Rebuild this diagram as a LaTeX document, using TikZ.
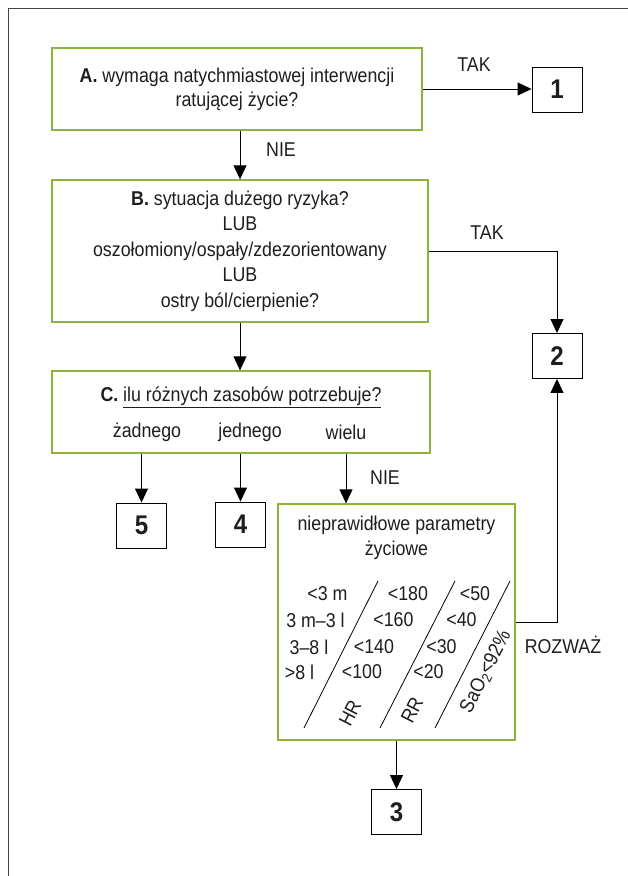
\documentclass[tikz,border=0pt]{standalone}
\usepackage{fontspec}
\setmainfont{Liberation Sans}[FakeStretch=0.89]
\usetikzlibrary{arrows.meta}
\definecolor{TriageGreen}{RGB}{141,180,56}
\definecolor{TriageText}{RGB}{30,30,30}
\definecolor{FrameGray}{RGB}{70,70,70}
\tikzset{
  questionBox/.style={draw=TriageGreen, line width=1.3pt, fill=white, align=center, inner sep=0pt},
  levelBox/.style={draw=black, line width=0.9pt, fill=white, minimum width=50pt, minimum height=45pt,
    inner sep=0pt, font=\fontsize{27}{30}\selectfont\bfseries},
  flowArrow/.style={draw=black, line width=0.9pt, -{Triangle[length=14pt,width=13pt]}},
  sideLabel/.style={inner sep=0pt},
  vitalRule/.style={draw=black, line width=0.8pt},
}

\begin{document}
\begin{tikzpicture}[x=1pt, y=-1pt, font=\fontsize{20}{24}\selectfont, text=TriageText]
\useasboundingbox (0,0) rectangle (628,876);

% frame corner
\draw[FrameGray, line width=1.5pt] (8.5,876) -- (8.5,8.5) -- (628,8.5);

% questions
\node[questionBox, minimum width=370pt, minimum height=82pt] (qa) at (237,89)
  {\textbf{A.} wymaga natychmiastowej interwencji\\ ratującej życie?};
\node[questionBox, minimum width=376pt, minimum height=142pt, font=\fontsize{20}{25.5}\selectfont] (qb) at (240,251)
  {\textbf{B.} sytuacja dużego ryzyka?\\ LUB\\ oszołomiony/ospały/zdezorientowany\\ LUB\\ ostry ból/cierpienie?};
\node[questionBox, minimum width=378pt, minimum height=82pt] (qc) at (241,412) {};
\node[sideLabel] (qctitle) at (241,397) {\textbf{C.} \underline{ilu różnych zasobów potrzebuje?}};
\node[sideLabel] (none) at (147,432) {żadnego};
\node[sideLabel] (one) at (250,432) {jednego};
\node[sideLabel] (many) at (346,432) {wielu};

\node[questionBox, minimum width=237pt, minimum height=236pt] (qd) at (396.5,622) {};
\node[sideLabel, align=center, font=\fontsize{20}{25}\selectfont] (qdtitle) at (396.5,537.5)
  {nieprawidłowe parametry\\ życiowe};

% vital signs table
\draw[vitalRule] (378,581) -- (304,728);
\draw[vitalRule] (455,581) -- (380,728);
\draw[vitalRule] (510,581) -- (435,728);
\node[sideLabel] (age1) at (327.5,594) {<3 m};
\node[sideLabel] (age2) at (315.5,620) {3 m–3 l};
\node[sideLabel] (age3) at (309,647) {3–8 l};
\node[sideLabel] (age4) at (299.5,672) {>8 l};
\node[sideLabel] (hr1) at (408,594) {<180};
\node[sideLabel] (hr2) at (393.5,620) {<160};
\node[sideLabel] (hr3) at (374,647) {<140};
\node[sideLabel] (hr4) at (362,672) {<100};
\node[sideLabel] (rr1) at (475,594) {<50};
\node[sideLabel] (rr2) at (461.5,620) {<40};
\node[sideLabel] (rr3) at (441.5,647) {<30};
\node[sideLabel] (rr4) at (428.5,672) {<20};
\node[sideLabel, rotate=63] (hrlab) at (350,713) {HR};
\node[sideLabel, rotate=63] (rrlab) at (412,710) {RR};
\node[sideLabel, rotate=63] (satlab) at (486,672) {SaO\textsubscript{2}<92\%};

% triage levels
\node[levelBox] (lvl1) at (557,89.5) {1};
\node[levelBox] (lvl2) at (557,356) {2};
\node[levelBox] (lvl3) at (396.5,812) {3};
\node[levelBox] (lvl4) at (240.5,524.5) {4};
\node[levelBox] (lvl5) at (141.5,525.5) {5};

% arrows
\draw[flowArrow] (qa.east) -- (qa.east -| lvl1.west);
\draw[flowArrow] (qa.south -| qb.north) -- (qb.north);
\draw[flowArrow] (qb.east) -| (lvl2.north);
\draw[flowArrow] (qb.south) -- (qb.south |- qc.north);
\draw[flowArrow] (qc.south -| lvl5.north) -- (lvl5.north);
\draw[flowArrow] (qc.south -| lvl4.north) -- (lvl4.north);
\draw[flowArrow] (qc.south -| many) -- (many |- qd.north);
\draw[flowArrow] (qd.south) -- (lvl3.north);
\draw[flowArrow] (qd.east) -| (lvl2.south);

% answers
\node[sideLabel] (tak1) at (474,65) {TAK};
\node[sideLabel] (nie1) at (281,150) {NIE};
\node[sideLabel] (tak2) at (487,233) {TAK};
\node[sideLabel] (nie2) at (385,478) {NIE};
\node[sideLabel] (consider) at (563,645) {ROZWAŻ};
\end{tikzpicture}
\end{document}
